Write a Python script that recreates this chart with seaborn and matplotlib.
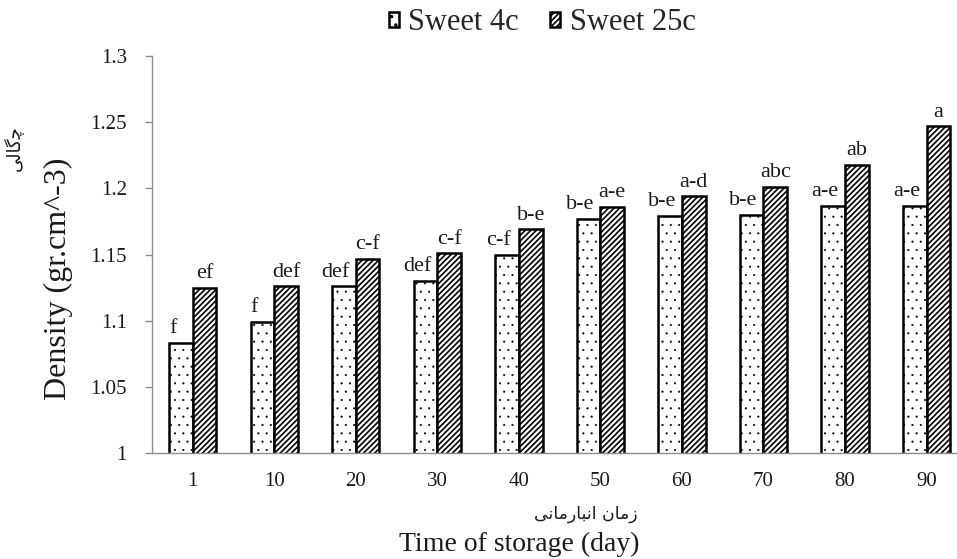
import matplotlib
matplotlib.use("Agg")
import matplotlib.pyplot as plt
import seaborn as sns
import pandas as pd
import numpy as np
from matplotlib.patches import Patch

days = ["1", "10", "20", "30", "40", "50", "60", "70", "80", "90"]
groups = ["Sweet 4c", "Sweet 25c"]
sweet_4c = [1.083, 1.099, 1.126, 1.130, 1.150, 1.177, 1.179, 1.180, 1.187, 1.187]
sweet_25c = [1.125, 1.126, 1.147, 1.151, 1.169, 1.186, 1.194, 1.201, 1.218, 1.247]
letters_4c = ["f", "f", "def", "def", "c-f", "b-e", "b-e", "b-e", "a-e", "a-e"]
letters_25c = ["ef", "def", "c-f", "c-f", "b-e", "a-e", "a-d", "abc", "ab", "a"]
y_ticks = [1, 1.05, 1.1, 1.15, 1.2, 1.25, 1.3]
y_tick_labels = ["1", "1.05", "1.1", "1.15", "1.2", "1.25", "1.3"]

df = pd.DataFrame({
    "day": days * 2,
    "group": [groups[0]] * len(days) + [groups[1]] * len(days),
    "density": sweet_4c + sweet_25c,
})

sns.set_theme(style="white")
plt.rcParams["font.family"] = ["Liberation Serif", "DejaVu Sans"]
plt.rcParams["hatch.linewidth"] = 1.2
plt.rcParams["hatch.color"] = "black"

fig = plt.figure(figsize=(9.57, 5.59), dpi=100)
ax = fig.add_axes([0.1588, 0.1896, 0.852, 0.710])

sns.barplot(data=df, x="day", y="density", hue="group", order=days,
            hue_order=groups, width=0.58, gap=0, ax=ax,
            palette=["white", "white"], edgecolor="black", linewidth=1.8,
            legend=False, errorbar=None, saturation=1)

hatches = {groups[0]: "..", groups[1]: "//////"}
hatch_lw = {groups[0]: 0.3, groups[1]: 1.2}


def style_patch(p, g):
    p.set_hatch(hatches[g])
    p.set_facecolor("white")
    p.set_edgecolor("black")
    if hasattr(p, "set_hatch_linewidth"):
        p.set_hatch_linewidth(hatch_lw[g])
    else:
        p._hatch_linewidth = hatch_lw[g]


for cont, g in zip(ax.containers, groups):
    for bar in cont:
        style_patch(bar, g)

# significance letters
for cont, labs, dx in zip(ax.containers, [letters_4c, letters_25c], [-6, 0]):
    for bar, lab in zip(cont, labs):
        ax.annotate(lab, (bar.get_x() + bar.get_width() / 2, bar.get_height()),
                    xytext=(dx, 7), textcoords="offset points",
                    ha="center", va="baseline", fontsize=16, color="#1a1a1a")

ax.set_ylim(1, 1.3)
ax.set_xlim(-0.5, 9.5)
ax.set_yticks(y_ticks)
ax.set_yticklabels(y_tick_labels)
ax.set_xticks(range(len(days)))
ax.set_xticklabels(days)
ax.set_xticks(np.arange(-0.5, len(days), 1.0), minor=True)
ax.tick_params(axis="x", which="major", length=0, pad=14, labelsize=15, colors="#1a1a1a")
ax.tick_params(axis="x", which="minor", length=5, width=1, color="#8c8c8c", direction="out")
ax.tick_params(axis="y", which="major", length=5, width=1, color="#8c8c8c", direction="out",
               pad=13, labelsize=15, labelcolor="#1a1a1a", left=True)
ax.set_xlabel("")
ax.set_ylabel("")
for s in ["top", "right"]:
    ax.spines[s].set_visible(False)
for s in ["left", "bottom"]:
    ax.spines[s].set_color("#8c8c8c")
    ax.spines[s].set_linewidth(1)

# axis titles
fig.text(58 / 957, 1 - 279 / 559, "Density (gr.cm^-3)", rotation=90,
         ha="center", va="center", fontsize=23, color="#1a1a1a")
fig.text(14 / 957, 1 - 148 / 559, "\uFBFD\uFEDF\uFE8E\uFB94\uFB7C", rotation=90,
         ha="center", va="center", fontsize=13, color="#1a1a1a",
         family=["DejaVu Sans"])
fig.text(586 / 957, 1 - 514 / 559,
         "\uFBFD\uFEE7\uFE8E\uFEE3\uFEAD\uFE8E\uFE92\uFEE7\uFE8D \uFEE5\uFE8E\uFEE3\uFEAF",
         ha="center", va="center", fontsize=12.5, color="#1a1a1a",
         family=["DejaVu Sans"])
fig.text(519.5 / 957, 1 - 544 / 559, "Time of storage (day)",
         ha="center", va="center", fontsize=20, color="#1a1a1a")

# legend
handles = []
for g in groups:
    h = Patch(facecolor="white", edgecolor="black", linewidth=1.8)
    style_patch(h, g)
    handles.append(h)
fig.legend(handles, groups, loc="center", bbox_to_anchor=(542 / 957, 1 - 23 / 559),
           ncol=2, frameon=False, fontsize=22, handlelength=0.35, handleheight=0.35,
           handletextpad=0.3, columnspacing=1.0, borderpad=0.1)

fig.savefig("out.png", dpi=100)
